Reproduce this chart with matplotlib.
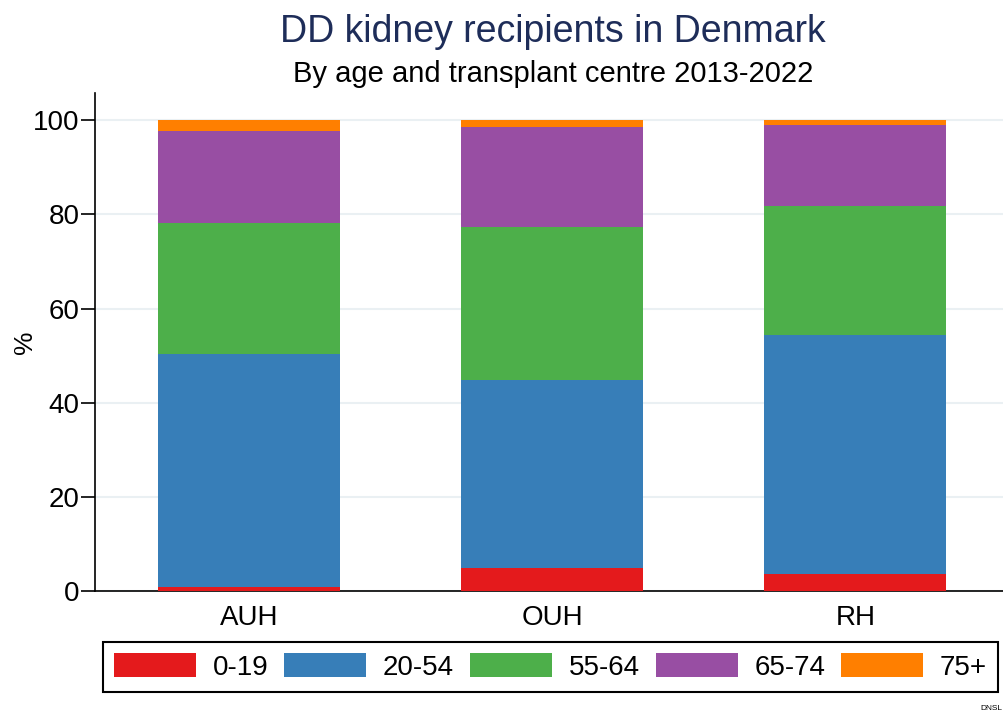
import matplotlib
matplotlib.use("Agg")
import matplotlib.pyplot as plt
import numpy as np

plt.rcParams["font.family"] = ["Liberation Sans", "DejaVu Sans"]

centres = ["AUH", "OUH", "RH"]
age_groups = ["0-19", "20-54", "55-64", "65-74", "75+"]
# percent of recipients per age group, per centre
pct_0_19 = [0.95, 5.05, 3.65]
pct_20_54 = [49.45, 39.85, 50.75]
pct_55_64 = [27.7, 32.4, 27.4]
pct_65_74 = [19.6, 21.2, 17.1]
pct_75plus = [2.3, 1.5, 1.1]
colors = ["#e41a1c", "#377eb8", "#4daf4a", "#984ea3", "#ff7f00"]

series = [pct_0_19, pct_20_54, pct_55_64, pct_65_74, pct_75plus]

fig = plt.figure(figsize=(10.04, 7.16), dpi=100)
ax = fig.add_axes([0.0946, 0.1739, 0.9054, 0.6961])

x = np.arange(len(centres))
bottom = np.zeros(len(centres))
handles = []
for vals, lab, col in zip(series, age_groups, colors):
    h = ax.bar(x, vals, width=0.6, bottom=bottom, color=col, label=lab, zorder=3)
    handles.append(h)
    bottom += np.array(vals)

ax.set_xlim(-0.508, 2.49)
ax.set_ylim(0, 105.7)
ax.set_yticks([0, 20, 40, 60, 80, 100])
ax.set_xticks(x)
ax.set_xticklabels(centres)
ax.tick_params(axis="y", labelsize=20, length=10, width=1.2, pad=1)
ax.tick_params(axis="x", labelsize=20, length=0, pad=10)
ax.yaxis.grid(True, color="#eaf0f3", linewidth=1.5, zorder=0)
ax.set_axisbelow(True)
for s in ["top", "right"]:
    ax.spines[s].set_visible(False)
ax.spines["left"].set_linewidth(1.2)
ax.spines["bottom"].set_linewidth(1.2)
ax.set_ylabel("%", fontsize=19, labelpad=-3)

fig.text(0.551, 0.955, "DD kidney recipients in Denmark", ha="center", va="center",
         fontsize=27, color="#1e2d59")
fig.text(0.551, 0.897, "By age and transplant centre 2013-2022", ha="center", va="center",
         fontsize=21, color="black")
fig.text(0.998, 0.006, "DNSL", ha="right", va="bottom", fontsize=6)

leg = fig.legend(handles, age_groups, loc="lower left", ncol=5,
                 bbox_to_anchor=(0.1026, 0.0335, 0.8914, 0.0684), mode="expand",
                 fontsize=20, handlelength=2.95, handleheight=0.95, handletextpad=0.6,
                 columnspacing=1.0, borderpad=0.4, borderaxespad=0,
                 fancybox=False, framealpha=1)
leg.get_frame().set_edgecolor("black")
leg.get_frame().set_linewidth(1.5)

fig.savefig("out.png", dpi=100)
